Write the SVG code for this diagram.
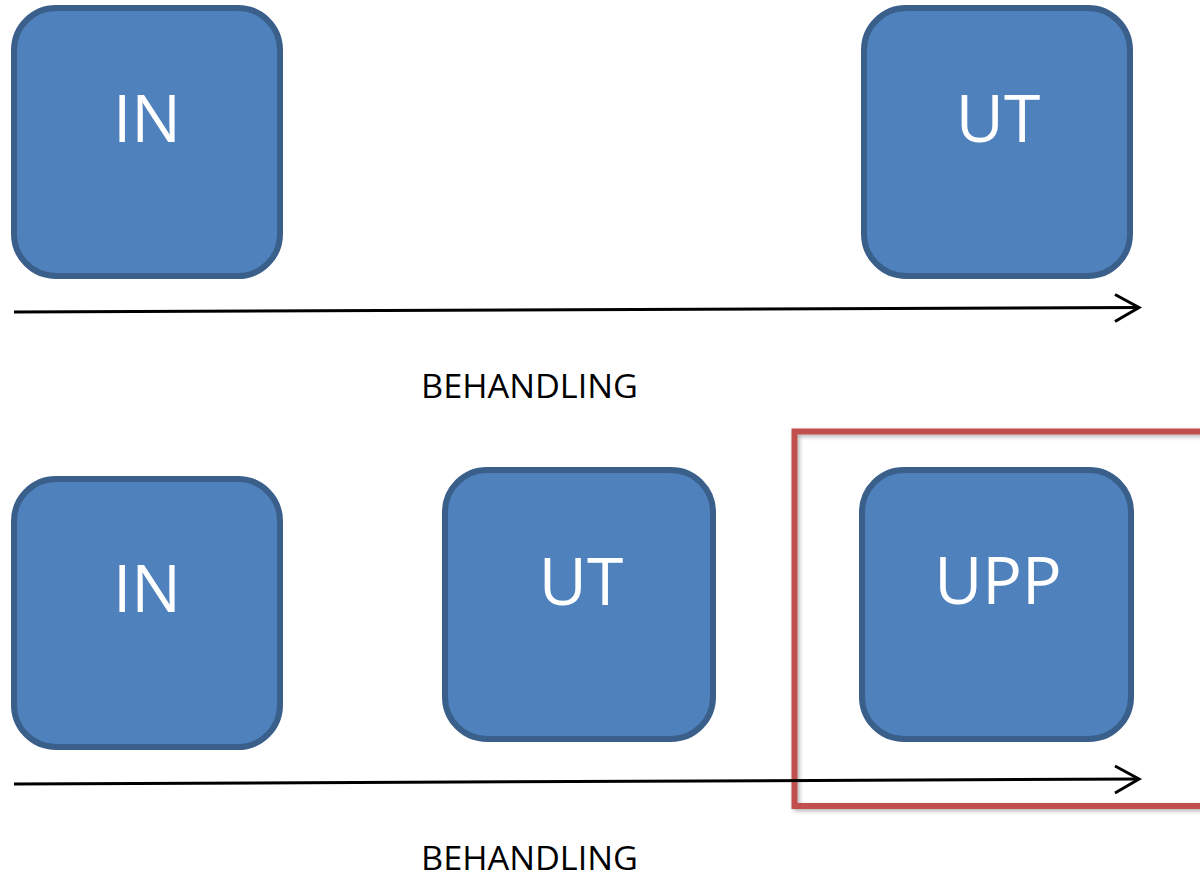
<svg xmlns="http://www.w3.org/2000/svg" width="1200" height="877" viewBox="0 0 1200 877">
<defs>
<style>
.box{fill:#4F81BD;stroke:#3A5F8B;stroke-width:6}
.lbl{font-family:"Open Sans","Liberation Sans",sans-serif;font-size:66px;fill:#FFFFFF;text-anchor:middle}
.cap{font-family:"Open Sans","Liberation Sans",sans-serif;font-size:32px;fill:#000000}
.ln{stroke:#000;stroke-width:3;fill:none}
</style>
<filter id="sh" x="-5%" y="-5%" width="110%" height="110%">
<feDropShadow dx="2" dy="2" stdDeviation="2" flood-color="#000" flood-opacity="0.3"/>
</filter>
</defs>
<rect width="1200" height="877" fill="#FFFFFF"/>
<g id="node-in-top"><rect class="box" x="14" y="8" width="266" height="268" rx="42"/><text class="lbl" x="147" y="142">IN</text></g>
<g id="node-ut-top"><rect class="box" x="864" y="8" width="266" height="268" rx="42"/><text class="lbl" x="998" y="142">UT</text></g>
<g id="node-in-bottom"><rect class="box" x="14" y="479" width="266" height="268" rx="42"/><text class="lbl" x="147" y="612">IN</text></g>
<g id="node-ut-bottom"><rect class="box" x="445" y="470" width="268" height="269" rx="42"/><text class="lbl" x="581" y="605">UT</text></g>
<g id="node-upp"><rect class="box" x="862" y="470" width="269" height="269" rx="42"/><text class="lbl" x="998" y="604">UPP</text></g>
<g id="highlight"><rect x="794.5" y="431.5" width="420" height="374.5" fill="none" stroke="#C0504D" stroke-width="6" filter="url(#sh)"/></g>
<g id="connectors">
<line class="ln" x1="14" y1="312" x2="1139" y2="307.5"/>
<polyline class="ln" points="1115,294.5 1139,307.5 1115,321.5"/>
<line class="ln" x1="14" y1="784" x2="1139" y2="779"/>
<polyline class="ln" points="1115,766 1139,779 1115,793"/>
</g>
<text class="cap" x="421" y="398" textLength="217" lengthAdjust="spacingAndGlyphs">BEHANDLING</text>
<text class="cap" x="421" y="870" textLength="217" lengthAdjust="spacingAndGlyphs">BEHANDLING</text>
</svg>
